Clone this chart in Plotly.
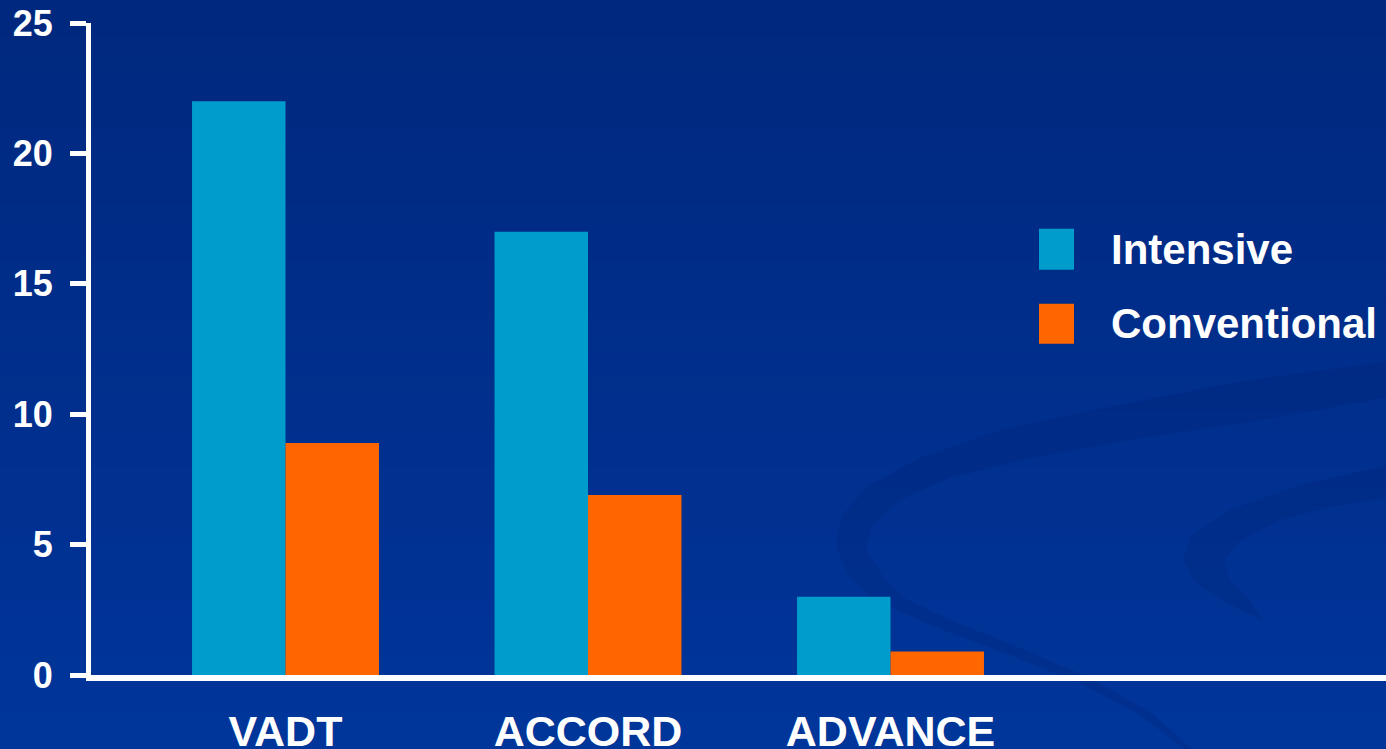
import plotly.graph_objects as go

# Data
trials = ["VADT", "ACCORD", "ADVANCE"]
intensive = [22, 17, 3]
conventional = [8.9, 6.9, 0.9]
series_names = ["Intensive", "Conventional"]
series_colors = ["#009CCC", "#FF6600"]
y_ticks = [0, 5, 10, 15, 20, 25]

W, H = 1386, 749
L, R, T, B = 91, 0, 23.3, 74
FONT = "Arial, Liberation Sans, sans-serif"


def to_paper(px, py):
    """Convert window pixel coordinates into paper coordinates."""
    x = (px - L) / (W - L - R)
    y = (H - B - py) / (H - B - T)
    return x, y


def path_from(points):
    parts = []
    for i, (px, py) in enumerate(points):
        x, y = to_paper(px, py)
        parts.append(("M" if i == 0 else "L") + f"{x:.5f},{y:.5f}")
    return " ".join(parts) + " Z"


fig = go.Figure()
fig.add_trace(go.Bar(x=trials, y=intensive, name=series_names[0],
                     marker=dict(color=series_colors[0], line=dict(width=0))))
fig.add_trace(go.Bar(x=trials, y=conventional, name=series_names[1],
                     marker=dict(color=series_colors[1], line=dict(width=0))))

shapes = []

# vertical background gradient (dark navy at top to brighter blue below)
top = (0, 40, 126)
bot = (0, 53, 154)
n = 40
for i in range(n):
    f = i / (n - 1)
    c = tuple(round(top[k] + (bot[k] - top[k]) * f) for k in range(3))
    py0 = H * i / n - 1
    py1 = H * (i + 1) / n + 1
    x0, y0 = to_paper(-2, py0)
    x1, y1 = to_paper(W + 2, py1)
    shapes.append(dict(type="rect", xref="paper", yref="paper",
                       x0=x0, x1=x1, y0=y1, y1=y0, layer="below",
                       fillcolor=f"rgb{c}", line=dict(width=0)))

# decorative swooshes in the lower right
swoosh_big = [
    (1386, 362), (1250, 380), (1120, 405), (1000, 430), (920, 458), (870, 485),
    (842, 515), (836, 545), (848, 575), (872, 598), (930, 625), (1010, 655),
    (1080, 683), (1140, 715), (1185, 749), (1192, 749), (1150, 712), (1090, 678),
    (1020, 648), (950, 620), (905, 598), (882, 575), (866, 550), (872, 525),
    (900, 500), (950, 478), (1030, 458), (1130, 440), (1260, 420), (1386, 398),
]
swoosh_small = [
    (1386, 466), (1300, 485), (1230, 510), (1192, 535), (1183, 560), (1195, 582),
    (1225, 602), (1262, 620), (1250, 600), (1230, 580), (1224, 560), (1240, 540),
    (1280, 520), (1330, 507), (1386, 498),
]
for pts in (swoosh_big, swoosh_small):
    shapes.append(dict(type="path", xref="paper", yref="paper", path=path_from(pts),
                       fillcolor="rgba(0,25,100,0.18)", line=dict(width=0), layer="below"))

# legend: colour squares with labels
annotations = []
legend_rows = [(229, 270), (304, 344)]
for (py0, py1), name, color in zip(legend_rows, series_names, series_colors):
    x0, y0 = to_paper(1039, py1)
    x1, y1 = to_paper(1074, py0)
    shapes.append(dict(type="rect", xref="paper", yref="paper", x0=x0, x1=x1,
                       y0=y0, y1=y1, fillcolor=color, line=dict(width=0)))
    tx, ty = to_paper(1109, (py0 + py1) / 2)
    annotations.append(dict(xref="paper", yref="paper", x=tx, y=ty, text=f"<b>{name}</b>",
                            showarrow=False, xanchor="left", yanchor="middle",
                            font=dict(family=FONT, size=42, color="white")))

# category axis spans from the y-axis to the right edge
cat_left = (L - 285.5) / 302.5
cat_right = (W - 285.5) / 302.5

fig.update_layout(
    width=W, height=H,
    margin=dict(l=L, r=R, t=T, b=B, pad=0, autoexpand=False),
    paper_bgcolor="#00308f",
    plot_bgcolor="rgba(0,0,0,0)",
    barmode="group",
    bargap=0.382,
    bargroupgap=0,
    showlegend=False,
    shapes=shapes,
    annotations=annotations,
    font=dict(family=FONT, color="white"),
    xaxis=dict(
        range=[cat_left, cat_right],
        automargin=False,
        showgrid=False, zeroline=False,
        showline=True, linecolor="white", linewidth=6,
        ticks="", ticklabelstandoff=13,
        tickfont=dict(family=FONT, size=43, color="white", weight="bold"),
        fixedrange=True,
    ),
    yaxis=dict(
        range=[0, 25],
        automargin=False,
        tickvals=y_ticks,
        ticktext=[str(v) for v in y_ticks],
        showgrid=False, zeroline=False,
        showline=True, linecolor="white", linewidth=5,
        ticks="outside", ticklen=16, tickwidth=5, tickcolor="white",
        ticklabelstandoff=10,
        tickfont=dict(family=FONT, size=36, color="white", weight="bold"),
        fixedrange=True,
    ),
)

fig.write_html("out.html", config={"displayModeBar": False})
